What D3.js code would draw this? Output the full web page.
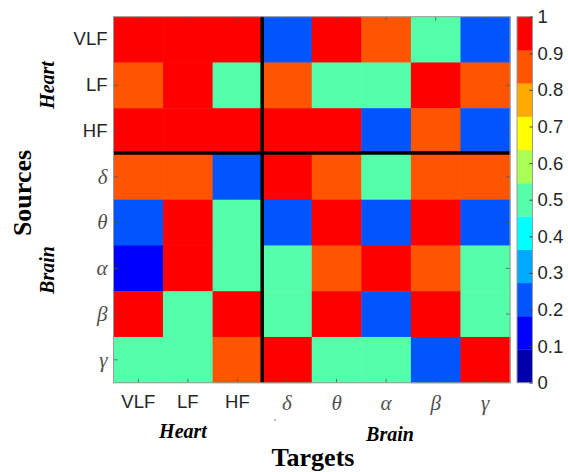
<!DOCTYPE html>
<html><head><meta charset="utf-8">
<script src="https://cdn.jsdelivr.net/npm/d3@7"></script>
<style>body{margin:0;background:#fff}</style>
</head><body>
<svg id="c" width="568" height="472"></svg>
<script>
const sources = ["VLF","LF","HF","δ","θ","α","β","γ"];
const targets = ["VLF","LF","HF","δ","θ","α","β","γ"];
const greek = new Set(["δ","θ","α","β","γ"]);
// rows = sources, columns = targets
const rowVLF = [1,1,1,0.2,1,0.9,0.5,0.2];
const rowLF  = [0.9,1,0.5,0.9,0.5,0.5,1,0.9];
const rowHF  = [1,1,1,1,1,0.2,0.9,0.2];
const rowDelta = [0.9,0.9,0.2,1,0.9,0.5,0.9,0.9];
const rowTheta = [0.2,1,0.5,0.2,1,0.2,1,0.2];
const rowAlpha = [0.1,1,0.5,0.5,0.9,1,0.9,0.5];
const rowBeta  = [1,0.5,1,0.5,1,0.2,1,0.5];
const rowGamma = [0.5,0.5,0.9,1,0.5,0.5,0.2,1];
const matrix = [rowVLF,rowLF,rowHF,rowDelta,rowTheta,rowAlpha,rowBeta,rowGamma];
const jet11 = ["#0000aa","#0000ff","#0055ff","#00aaff","#00ffff","#55ffaa","#aaff55","#ffff00","#ffaa00","#ff5500","#ff0000"];
const cbTicks = [0,0.1,0.2,0.3,0.4,0.5,0.6,0.7,0.8,0.9,1];
const cbLabels = ["0","0.1","0.2","0.3","0.4","0.5","0.6","0.7","0.8","0.9","1"];

const svg = d3.select("#c");
const L=113.5, R=510, T=16.7, B=382.7;
const x = d3.scaleBand().domain(targets).range([L,R]);
const y = d3.scaleBand().domain(sources).range([T,B]);
const color = d3.scaleQuantize().domain([0,1]).range(jet11);

const cells = [];
matrix.forEach((row,i)=>row.forEach((v,j)=>cells.push({s:sources[i],t:targets[j],v})));
svg.append("g").selectAll("rect").data(cells).join("rect")
  .attr("x",d=>x(d.t)).attr("y",d=>y(d.s))
  .attr("width",x.bandwidth()+0.5).attr("height",y.bandwidth()+0.5)
  .attr("fill",d=>color(d.v));

// separators
const sepX = x("δ"), sepY = y("δ");
svg.append("line").attr("x1",sepX).attr("x2",sepX).attr("y1",T).attr("y2",B)
  .attr("stroke","#000").attr("stroke-width",3.5);
svg.append("line").attr("x1",L).attr("x2",R).attr("y1",sepY-1).attr("y2",sepY-1)
  .attr("stroke","#000").attr("stroke-width",3.5);

function styleAxis(g){
  g.select(".domain").remove();
  g.selectAll(".tick line").attr("stroke","#555").attr("stroke-width",0.8);
}
function styleLabels(g){
  g.selectAll(".tick text").each(function(d){
    const t=d3.select(this);
    if(greek.has(d)){
      t.attr("font-family","'Liberation Serif','Times New Roman',serif").attr("font-style","italic")
       .attr("font-size",21).attr("fill","#505050");
    } else {
      t.attr("font-family","'Liberation Sans',Arial,sans-serif").attr("font-size",18.5).attr("fill","#262626");
    }
  });
}
svg.append("g").attr("transform",`translate(0,${B})`)
  .call(d3.axisBottom(x).tickSize(-4).tickPadding(12)).call(styleAxis).call(styleLabels);
svg.append("g").attr("transform",`translate(0,${T})`)
  .call(d3.axisTop(x).tickSize(-4).tickFormat("")).call(styleAxis);
svg.append("g").attr("transform",`translate(${L},0)`)
  .call(d3.axisLeft(y).tickSize(-4).tickPadding(6)).call(styleAxis).call(styleLabels);
svg.append("g").attr("transform",`translate(${R},0)`)
  .call(d3.axisRight(y).tickSize(-4).tickFormat("")).call(styleAxis);

svg.append("rect").attr("x",L).attr("y",T).attr("width",R-L).attr("height",B-T)
  .attr("fill","none").attr("stroke","#999").attr("stroke-width",1);

// colorbar
const CL=517, CR=532.5;
const cy = d3.scaleLinear().domain([0,1]).range([B,T]);
svg.append("g").selectAll("rect").data(jet11).join("rect")
  .attr("x",CL).attr("width",CR-CL)
  .attr("y",(c,i)=>cy((i+1)/jet11.length)).attr("height",(c,i)=>cy(i/jet11.length)-cy((i+1)/jet11.length)+0.3)
  .attr("fill",c=>c);
svg.append("rect").attr("x",CL).attr("y",T).attr("width",CR-CL).attr("height",B-T)
  .attr("fill","none").attr("stroke","#999").attr("stroke-width",1);
const cbAxis = svg.append("g").attr("transform",`translate(${CR},0)`)
  .call(d3.axisRight(cy).tickValues(cbTicks).tickSize(-3).tickPadding(5).tickFormat((d,i)=>cbLabels[i]));
cbAxis.select(".domain").remove();
cbAxis.selectAll(".tick line").attr("stroke","#444");
cbAxis.selectAll(".tick text").attr("font-family","'Liberation Sans',Arial,sans-serif").attr("font-size",18.5).attr("fill","#262626");

// group labels
const serif="'Liberation Serif','Times New Roman',serif";
function vlabel(txt,cx,cyy,size){
  svg.append("text").attr("transform",`translate(${cx},${cyy}) rotate(-90)`)
    .attr("text-anchor","middle").attr("font-family",serif).attr("font-weight","bold")
    .attr("font-style","italic").attr("font-size",size).attr("fill","#000").text(txt);
}
vlabel("Heart",54,85,20);
vlabel("Brain",54,270,20);
svg.append("text").attr("x",183).attr("y",438).attr("text-anchor","middle").attr("font-family",serif)
  .attr("font-weight","bold").attr("font-style","italic").attr("font-size",20).text("Heart");
svg.append("text").attr("x",390).attr("y",441).attr("text-anchor","middle").attr("font-family",serif)
  .attr("font-weight","bold").attr("font-style","italic").attr("font-size",20).text("Brain");
svg.append("text").attr("transform","translate(31,193) rotate(-90)").attr("text-anchor","middle")
  .attr("font-family",serif).attr("font-weight","bold").attr("font-size",26).text("Sources");
svg.append("text").attr("x",313).attr("y",466).attr("text-anchor","middle")
  .attr("font-family",serif).attr("font-weight","bold").attr("font-size",26).text("Targets");
svg.append("circle").attr("cx",275).attr("cy",420).attr("r",0.8).attr("fill","#666");
</script>
</body></html>
